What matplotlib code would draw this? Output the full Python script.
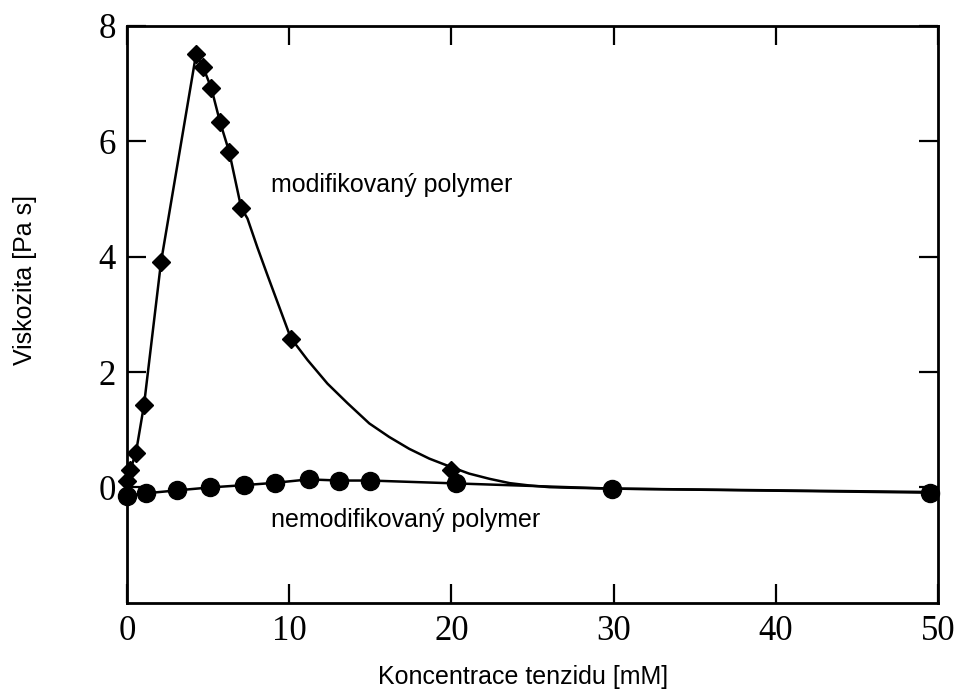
import matplotlib
matplotlib.use("Agg")
import matplotlib.pyplot as plt

# modified polymer (diamonds)
mod_x = [0.0, 0.2, 0.55, 1.05, 2.1, 4.26, 4.7, 5.2, 5.74, 6.3, 7.04, 10.1, 20.0]
mod_y = [0.12, 0.30, 0.60, 1.43, 3.91, 7.51, 7.28, 6.92, 6.33, 5.82, 4.85, 2.57, 0.31]

# drawn curve for modified polymer
mod_line_x = [0.0, 0.2, 0.55, 1.05, 2.1, 4.26, 4.7, 5.2, 5.74, 6.3, 7.04, 7.43, 8.04,
              8.66, 9.28, 10.1, 11.13, 12.36, 13.6, 14.94, 16.17, 17.4, 18.64, 19.88,
              21.1, 22.35, 23.6, 24.8, 26.05, 27.3, 30.0, 40.0, 50.0]
mod_line_y = [0.05, 0.30, 0.60, 1.43, 3.91, 7.51, 7.28, 6.92, 6.33, 5.82, 4.85, 4.66, 4.16,
              3.68, 3.21, 2.59, 2.21, 1.80, 1.46, 1.11, 0.875, 0.67, 0.50, 0.365,
              0.24, 0.15, 0.075, 0.035, 0.005, -0.005, -0.02, -0.05, -0.08]

# unmodified polymer (circles)
unmod_x = [0.0, 1.2, 3.1, 5.1, 7.2, 9.1, 11.2, 13.1, 15.0, 20.3, 29.9, 49.5]
unmod_y = [-0.14, -0.10, -0.05, 0.0, 0.04, 0.08, 0.14, 0.12, 0.12, 0.07, -0.02, -0.09]

x_ticks = [0, 10, 20, 30, 40, 50]
y_ticks = [0, 2, 4, 6, 8]

fig = plt.figure(figsize=(9.57, 6.89), dpi=100)
ax = fig.add_axes([0.1327, 0.125, 0.8473, 0.8375])

ax.plot(mod_line_x, mod_line_y, color='black', lw=1.8, zorder=2)
ax.plot(unmod_x, unmod_y, color='black', lw=1.8, zorder=2)
ax.plot(mod_x, mod_y, 'D', color='black', markersize=9.5, zorder=3, clip_on=False)
ax.plot(unmod_x, unmod_y, 'o', color='black', markersize=13, zorder=3, clip_on=False)

ax.set_xlim(0, 50)
ax.set_ylim(-2, 8)
ax.set_xticks(x_ticks)
ax.set_yticks(y_ticks)
ax.set_xticklabels([str(t) for t in x_ticks])
ax.set_yticklabels([str(t) for t in y_ticks])

for s in ax.spines.values():
    s.set_linewidth(2)
ax.tick_params(direction='in', length=13.5, width=1.6, top=True, right=True,
               labelsize=25)
ax.tick_params(axis='x', pad=9)
ax.tick_params(axis='y', pad=8)
for lab in ax.get_xticklabels() + ax.get_yticklabels():
    lab.set_fontfamily('Liberation Serif')

ax.text(8.9, 5.25, 'modifikovaný polymer', fontsize=18, family='Liberation Sans',
        ha='left', va='center')
ax.text(8.9, -0.57, 'nemodifikovaný polymer', fontsize=18, family='Liberation Sans',
        ha='left', va='center')

fig.text(523 / 957, 1 - 677 / 689, 'Koncentrace tenzidu [mM]', fontsize=18,
         family='Liberation Sans', ha='center', va='center')
fig.text(25 / 957, 1 - 280 / 689, 'Viskozita [Pa s]', fontsize=18, rotation=90,
         family='Liberation Sans', ha='center', va='center')

fig.savefig('out.png', dpi=100, facecolor='white')
